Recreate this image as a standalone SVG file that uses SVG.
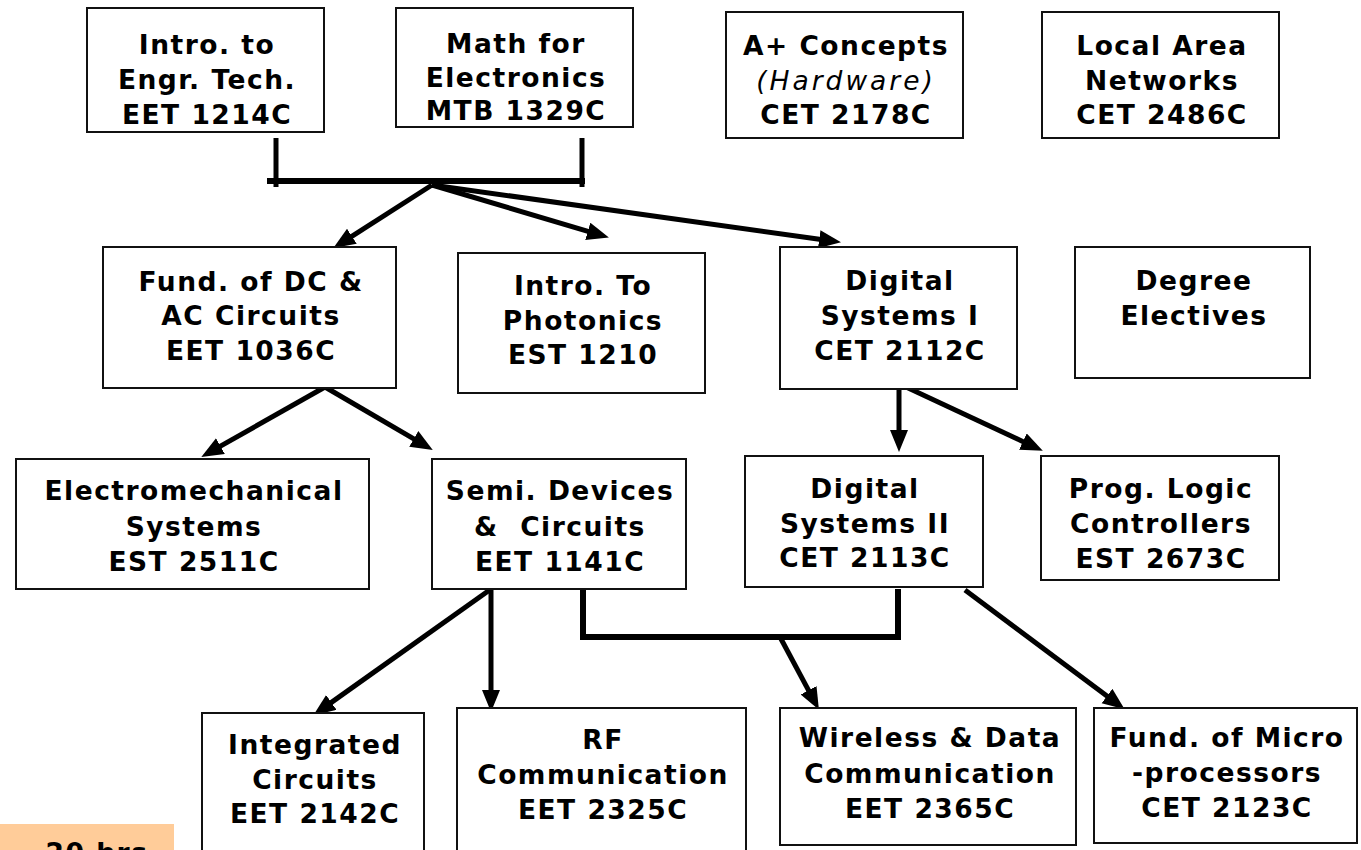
<svg xmlns="http://www.w3.org/2000/svg" width="1361" height="850" viewBox="0 0 1361 850">
<defs>
<style>
.box{fill:#fff;stroke:#111;stroke-width:2}
.t{font-family:"DejaVu Sans","Verdana",sans-serif;font-weight:bold;font-size:26.5px;letter-spacing:1.5px;text-anchor:middle;fill:#000}
.it{font-weight:normal;font-style:italic;letter-spacing:3px}
.ln{stroke:#000;stroke-width:5;fill:none}
.br{stroke:#000;stroke-width:6;fill:none}
</style>
<marker id="ah" markerUnits="userSpaceOnUse" markerWidth="24" markerHeight="20" refX="2" refY="9" orient="auto">
<path d="M0,0 L22,9 L0,18 z" fill="#000"/>
</marker>
</defs>
<rect width="1361" height="850" fill="#fff"/>

<g id="connectors">
<line class="ln" x1="276" y1="138" x2="276" y2="187"/>
<line class="ln" x1="582" y1="138" x2="582" y2="187"/>
<line class="br" x1="267" y1="181" x2="585" y2="181"/>
<line class="ln" x1="432" y1="185" x2="350.2" y2="237.3" marker-end="url(#ah)"/>
<line class="ln" x1="432" y1="185" x2="589.7" y2="231.9" marker-end="url(#ah)"/>
<line class="ln" x1="432" y1="185" x2="821.2" y2="239.5" marker-end="url(#ah)"/>
<line class="ln" x1="325" y1="387" x2="218.7" y2="447.1" marker-end="url(#ah)"/>
<line class="ln" x1="325" y1="387" x2="415.5" y2="439.9" marker-end="url(#ah)"/>
<line class="ln" x1="899" y1="387" x2="899" y2="432" marker-end="url(#ah)"/>
<line class="ln" x1="906" y1="387" x2="1024.7" y2="442.4" marker-end="url(#ah)"/>
<line class="ln" x1="491" y1="589" x2="329.7" y2="703.6" marker-end="url(#ah)"/>
<line class="ln" x1="491" y1="589" x2="491" y2="692" marker-end="url(#ah)"/>
<path class="br" d="M583,589 V637 H898 V589"/>
<line class="ln" x1="780" y1="637" x2="809.5" y2="692.1" marker-end="url(#ah)"/>
<line class="ln" x1="965" y1="590" x2="1108.6" y2="697.2" marker-end="url(#ah)"/>
</g>

<g id="n-eet1214c"><rect class="box" x="87" y="8" width="237" height="124"/>
<text class="t" x="207" y="54">Intro. to</text><text class="t" x="207" y="89">Engr. Tech.</text><text class="t" x="207" y="124">EET 1214C</text></g>
<g id="n-mtb1329c"><rect class="box" x="396" y="8" width="237" height="119"/>
<text class="t" x="516" y="53">Math for</text><text class="t" x="516" y="87">Electronics</text><text class="t" x="516" y="120">MTB 1329C</text></g>
<g id="n-cet2178c"><rect class="box" x="726" y="12" width="237" height="126"/>
<text class="t" x="846" y="55">A+ Concepts</text><text class="t it" x="846" y="90">(Hardware)</text><text class="t" x="846" y="124">CET 2178C</text></g>
<g id="n-cet2486c"><rect class="box" x="1042" y="12" width="237" height="126"/>
<text class="t" x="1162" y="55">Local Area</text><text class="t" x="1162" y="90">Networks</text><text class="t" x="1162" y="124">CET 2486C</text></g>

<g id="n-eet1036c"><rect class="box" x="103" y="247" width="293" height="141"/>
<text class="t" x="251" y="291">Fund. of DC &amp;</text><text class="t" x="251" y="325">AC Circuits</text><text class="t" x="251" y="360">EET 1036C</text></g>
<g id="n-est1210"><rect class="box" x="458" y="253" width="247" height="140"/>
<text class="t" x="583" y="295">Intro. To</text><text class="t" x="583" y="330">Photonics</text><text class="t" x="583" y="364">EST 1210</text></g>
<g id="n-cet2112c"><rect class="box" x="780" y="247" width="237" height="142"/>
<text class="t" x="900" y="290">Digital</text><text class="t" x="900" y="325">Systems I</text><text class="t" x="900" y="360">CET 2112C</text></g>
<g id="n-electives"><rect class="box" x="1075" y="247" width="235" height="131"/>
<text class="t" x="1194" y="290">Degree</text><text class="t" x="1194" y="325">Electives</text></g>

<g id="n-est2511c"><rect class="box" x="16" y="459" width="353" height="130"/>
<text class="t" x="194" y="500">Electromechanical</text><text class="t" x="194" y="536">Systems</text><text class="t" x="194" y="571">EST 2511C</text></g>
<g id="n-eet1141c"><rect class="box" x="432" y="459" width="254" height="130"/>
<text class="t" x="560" y="500">Semi. Devices</text><text class="t" x="560" y="536" xml:space="preserve">&amp;  Circuits</text><text class="t" x="560" y="571">EET 1141C</text></g>
<g id="n-cet2113c"><rect class="box" x="745" y="456" width="238" height="131"/>
<text class="t" x="865" y="498">Digital</text><text class="t" x="865" y="533">Systems II</text><text class="t" x="865" y="567">CET 2113C</text></g>
<g id="n-est2673c"><rect class="box" x="1041" y="456" width="238" height="124"/>
<text class="t" x="1161" y="498">Prog. Logic</text><text class="t" x="1161" y="533">Controllers</text><text class="t" x="1161" y="568">EST 2673C</text></g>

<g id="n-eet2142c"><rect class="box" x="202" y="713" width="222" height="160"/>
<text class="t" x="315" y="754">Integrated</text><text class="t" x="315" y="789">Circuits</text><text class="t" x="315" y="823">EET 2142C</text></g>
<g id="n-eet2325c"><rect class="box" x="457" y="708" width="289" height="165"/>
<text class="t" x="603" y="749">RF</text><text class="t" x="603" y="784">Communication</text><text class="t" x="603" y="819">EET 2325C</text></g>
<g id="n-eet2365c"><rect class="box" x="780" y="708" width="296" height="137"/>
<text class="t" x="930" y="747">Wireless &amp; Data</text><text class="t" x="930" y="783">Communication</text><text class="t" x="930" y="818">EET 2365C</text></g>
<g id="n-cet2123c"><rect class="box" x="1094" y="708" width="263" height="135"/>
<text class="t" x="1227" y="747">Fund. of Micro</text><text class="t" x="1227" y="782">-processors</text><text class="t" x="1227" y="817">CET 2123C</text></g>

<g id="n-hours"><rect x="0" y="824" width="174" height="40" fill="#FFCC99"/>
<text class="t" x="97" y="862">20 hrs</text></g>
</svg>
